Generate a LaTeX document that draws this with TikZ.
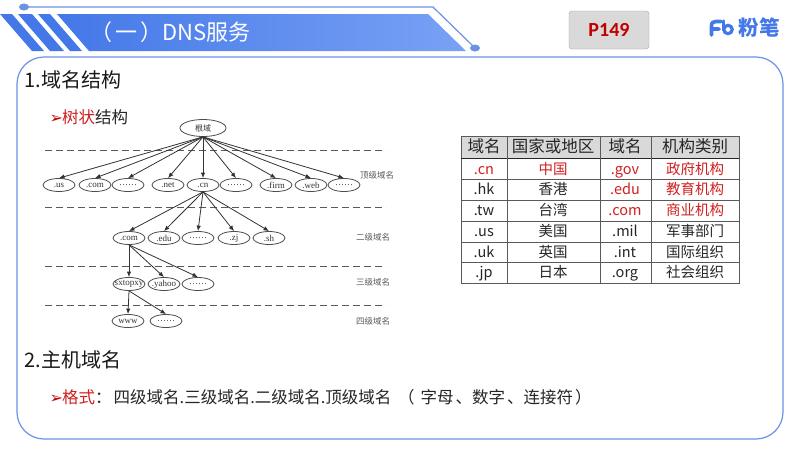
\documentclass[tikz,border=0pt]{standalone}
\usepackage{fontspec}
\setmainfont{Carlito}
\newfontfamily\cjk{Noto Sans CJK SC}
\newfontfamily\arrowfont{DejaVu Sans}
\newfontfamily\treefont{Liberation Serif}
\usetikzlibrary{arrows.meta,shapes.geometric}
\definecolor{framecolor}{HTML}{6A93E4}
\definecolor{bannerleft}{HTML}{4478E8}
\definecolor{bannerright}{HTML}{79A2F5}
\definecolor{markred}{HTML}{C00000}
\definecolor{tablered}{HTML}{D02020}
\newcommand\levelrule[1]{\draw[dashrule] (45,#1) -- (386,#1);}
\newcommand\bulletmark{\makebox[12.7pt][l]{\textcolor{markred}{\arrowfont\fontsize{16}{16}\selectfont ➢}}}
\tikzset{
  domainnode/.style={draw=black!70, line width=0.8pt, ellipse, minimum width=32, minimum height=13, inner sep=0, inner xsep=-4pt, font=\treefont\fontsize{9}{10}\selectfont, text=black!80},
  rootnode/.style={domainnode, minimum width=46, minimum height=17},
  link/.style={draw=black!80, line width=0.8pt, -{Latex[length=5.5pt,width=4.5pt]}},
  dashrule/.style={draw=black!65, line width=0.8pt, dash pattern=on 7pt off 4pt},
  levelname/.style={font=\cjk\fontsize{8.5}{9}\selectfont, text=black!65},
  heading/.style={anchor=west, font=\cjk\fontsize{20}{22}\selectfont, text=black!90},
  bullet/.style={anchor=west, font=\cjk\fontsize{16.5}{18}\selectfont, text=black!85},
  cell/.style={font=\cjk\fontsize{14.5}{16}\selectfont, text=black!85, text height=11pt, text depth=2pt, inner sep=0},
  redcell/.style={cell, text=tablered},
  headcell/.style={font=\cjk\fontsize{16.5}{18}\selectfont, text=black!85, text height=12pt, text depth=3pt, inner sep=0},
}
\begin{document}
\begin{tikzpicture}[x=1pt,y=-1pt]
\useasboundingbox (0,0) rectangle (800,450);
\fill[white] (0,0) rectangle (800,450);

% banner
\shade[left color=bannerleft, right color=bannerright] (57,14) -- (428,14) -- (466,51) -- (89,51) -- cycle;
\fill[bannerleft] (0,14) -- (12,14) -- (44,51) -- (32,51) -- cycle;
\fill[bannerleft] (18,14) -- (32,14) -- (64,51) -- (50,51) -- cycle;
\fill[bannerleft] (38,14) -- (50,14) -- (82,51) -- (70,51) -- cycle;
\draw[framecolor, line width=1.2pt] (24,7) -- (433,7) -- (475,48);
\fill[framecolor] (24,7) ellipse (5 and 3.5);
\fill[framecolor] (475,48) ellipse (5 and 3.5);
\node[anchor=west, text=white, font=\cjk\fontsize{22}{24}\selectfont] (title) at (87,32) {（\hspace{3pt}一\hspace{3pt}）DNS服务};

% page tag and logo
\node[draw=black!35, fill=black!15, rounded corners=3, minimum width=80, minimum height=38, text=markred, font=\bfseries\fontsize{20}{22}\selectfont] (page) at (609,30) {P149};
\draw[bannerleft, line width=3.6pt, line cap=round, line join=round] (711.5,35) -- (711.5,26) .. controls (711.5,22.5) and (713,21.5) .. (716,21.5) -- (721,21.5) (711.5,29) -- (719,29);
\draw[bannerleft, line width=3.2pt] (728,29.5) circle (4.2);
\draw[bannerleft, line width=3.2pt, line cap=round] (723.8,21) -- (723.8,30);
\node[text=bannerleft, inner sep=0, font=\cjk\bfseries\fontsize{20.5}{22}\selectfont] (logotext) at (759,28) {粉笔};

% frame
\draw[framecolor, line width=1.2pt, fill=white] (17,84) arc (180:270:27) -- (756,57) arc (270:360:27) -- (783,412) arc (0:90:27) -- (44,439) arc (90:180:27) -- cycle;

% text
\node[heading] (first) at (21,80) {1.域名结构};
\node[bullet] (tree) at (46,117) {\bulletmark\textcolor{tablered}{树状}结构};
\node[heading] (second) at (21,360) {2.主机域名};
\node[bullet] (format) at (46,397) {\bulletmark\textcolor{tablered}{格式}：\hspace{2pt}四级域名.三级域名.二级域名.顶级域名 \hspace{3pt}（\hspace{6pt}字母\hspace{2pt}、数字\hspace{2pt}、连接符\hspace{2pt}）};

% dashed level rules
\levelrule{150}
\levelrule{207}
\levelrule{266}
\levelrule{305}

% tree
\node[rootnode, font=\cjk\fontsize{8}{9}\selectfont] (root) at (203,128) {根域};
\node[domainnode] (us) at (59,185) {.us};
\node[domainnode] (com) at (95,185) {.com};
\node[domainnode] (dotsa) at (128,185) {……};
\node[domainnode] (net) at (168,185) {.net};
\node[domainnode] (cn) at (203,185) {.cn};
\node[domainnode] (dotsb) at (236,185) {……};
\node[domainnode] (firm) at (276,185) {.firm};
\node[domainnode] (web) at (311,185) {.web};
\node[domainnode] (dotsc) at (344,185) {……};
\node[domainnode] (comcn) at (129,238) {.com};
\node[domainnode] (edu) at (164,238) {.edu};
\node[domainnode] (dotsd) at (198,238) {……};
\node[domainnode] (zj) at (234,238) {.zj};
\node[domainnode] (sh) at (269,238) {.sh};
\node[domainnode] (sxtopxy) at (129,284) {sxtopxy};
\node[domainnode] (yahoo) at (164,284) {.yahoo};
\node[domainnode] (dotse) at (198,284) {……};
\node[domainnode] (www) at (128,321) {www};
\node[domainnode] (dotsf) at (166,321) {……};
\foreach \n in {us,com,dotsa,net,cn,dotsb,firm,web,dotsc}
  \draw[link] (root.south) -- (\n.north);
\foreach \n in {comcn,edu,dotsd,zj,sh}
  \draw[link] (cn.south) -- (\n.north);
\foreach \n in {sxtopxy,yahoo,dotse}
  \draw[link] (comcn.south) -- (\n.north);
\foreach \n in {www,dotsf}
  \draw[link] (sxtopxy.south) -- (\n.north);
\node[levelname] (top) at (377,175) {顶级域名};
\node[levelname] (two) at (373,237) {二级域名};
\node[levelname] (three) at (373,282) {三级域名};
\node[levelname] (four) at (373,321) {四级域名};

% table
\fill[black!15] (461,136) rectangle (739,158);
\draw[black!65, line width=0.8pt] (461,136) rectangle (739,283);
\foreach \y in {179,200,221,242,262}
  \draw[black!65, line width=0.8pt] (461,\y) -- (739,\y);
\draw[black!85, line width=1pt] (461,158) -- (739,158);
\foreach \x in {507,600,651}
  \draw[black!65, line width=0.8pt] (\x,136) -- (\x,283);
\node[headcell] (ha) at (484,148) {域名};
\node[headcell] (hb) at (553,148) {国家或地区};
\node[headcell] (hc) at (625,148) {域名};
\node[headcell] (hd) at (695,148) {机构类别};
\node[redcell] (a1) at (484,170) {.cn};
\node[redcell] (b1) at (553,170) {中国};
\node[redcell] (c1) at (625,170) {.gov};
\node[redcell] (d1) at (695,170) {政府机构};
\node[cell] (a2) at (484,190) {.hk};
\node[cell] (b2) at (553,190) {香港};
\node[redcell] (c2) at (625,190) {.edu};
\node[redcell] (d2) at (695,190) {教育机构};
\node[cell] (a3) at (484,211) {.tw};
\node[cell] (b3) at (553,211) {台湾};
\node[redcell] (c3) at (625,211) {.com};
\node[redcell] (d3) at (695,211) {商业机构};
\node[cell] (a4) at (484,232) {.us};
\node[cell] (b4) at (553,232) {美国};
\node[cell] (c4) at (625,232) {.mil};
\node[cell] (d4) at (695,232) {军事部门};
\node[cell] (a5) at (484,253) {.uk};
\node[cell] (b5) at (553,253) {英国};
\node[cell] (c5) at (625,253) {.int};
\node[cell] (d5) at (695,253) {国际组织};
\node[cell] (a6) at (484,273) {.jp};
\node[cell] (b6) at (553,273) {日本};
\node[cell] (c6) at (625,273) {.org};
\node[cell] (d6) at (695,273) {社会组织};
\end{tikzpicture}
\end{document}
